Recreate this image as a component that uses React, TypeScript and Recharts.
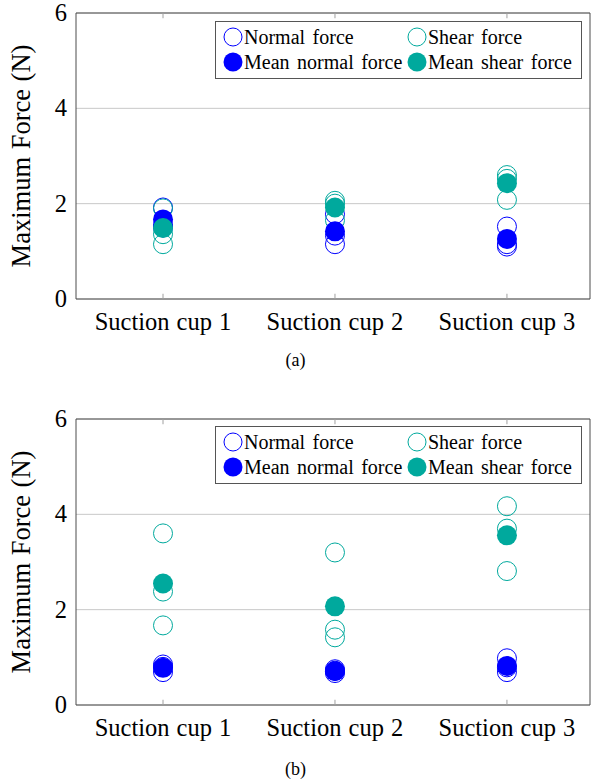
import React from 'react';
import { ScatterChart, Scatter, XAxis, YAxis, CartesianGrid, ReferenceArea, ReferenceLine } from 'recharts';

const cups = ['Suction cup 1', 'Suction cup 2', 'Suction cup 3'];
const yTicks = [0, 2, 4, 6];

// (a) three trials per cup
const normalA = [[1.92, 1.55, 1.5], [1.15, 1.33, 1.78], [1.52, 1.15, 1.1]];
const shearA = [[1.15, 1.36, 1.9], [2.06, 2.0, 1.65], [2.6, 2.52, 2.08]];
const meanNormalA = [1.67, 1.42, 1.26];
const meanShearA = [1.49, 1.92, 2.43];

// (b)
const normalB = [[0.69, 0.8, 0.85], [0.67, 0.72, 0.75], [0.98, 0.79, 0.69]];
const shearB = [[3.6, 2.38, 1.67], [3.2, 1.58, 1.42], [4.17, 3.7, 2.81]];
const meanNormalB = [0.78, 0.71, 0.82];
const meanShearB = [2.55, 2.07, 3.56];

const BLUE = '#0000ff';
const TEAL = '#00a99d';
const FONT = 'Liberation Serif';
const X_MIN = 0.494;
const X_MAX = 3.483;
const HEAD = 10; // spare room above the plot so the top tick label is not clipped

const toPoints = (groups: number[][]) =>
  groups.flatMap((vals, i) => vals.map((v) => ({ x: i + 1, y: v })));
const toMeans = (vals: number[]) => vals.map((v, i) => ({ x: i + 1, y: v }));

const ring = (color: string) => (p: any) =>
  <circle cx={p.cx} cy={p.cy} r={9.5} fill="none" stroke={color} strokeWidth={1} />;
const dot = (color: string) => (p: any) =>
  <circle cx={p.cx} cy={p.cy} r={10} fill={color} />;

const XTick = (p: any) => (
  <text x={p.x} y={p.y + 31} textAnchor="middle" fontFamily={FONT} fontSize={24.5} wordSpacing={1} fill="#000">
    {cups[p.payload.value - 1]}
  </text>
);

const YTick = (p: any) => (
  <text x={p.x} y={p.y + 8} textAnchor="end" fontFamily={FONT} fontSize={24.5} fill="#000">
    {p.payload.value}
  </text>
);

const yLabel = (props: any) => {
  const vb = props.viewBox;
  const cy = vb.y + vb.height / 2;
  return (
    <text x={30} y={cy} transform={`rotate(-90 30 ${cy})`} textAnchor="middle"
      fontFamily={FONT} fontSize={26.5} wordSpacing={1} fill="#000">
      Maximum Force (N)
    </text>
  );
};

const LegendBox: React.FC<{ top: number }> = ({ top }) => {
  const items = [
    { label: 'Normal force', color: BLUE, filled: false },
    { label: 'Shear force', color: TEAL, filled: false },
    { label: 'Mean normal force', color: BLUE, filled: true },
    { label: 'Mean shear force', color: TEAL, filled: true },
  ];
  return (
    <div style={{
      position: 'absolute', left: 215, top, width: 367, height: 58,
      border: '1px solid #555', background: '#fff', boxSizing: 'border-box',
      fontFamily: FONT, fontSize: 20, color: '#000',
    }}>
      {items.map((it, i) => (
        <div key={it.label} style={{
          position: 'absolute', left: i % 2 === 0 ? 7 : 191, top: i < 2 ? 3 : 28,
          display: 'flex', alignItems: 'center', height: 24, whiteSpace: 'nowrap', wordSpacing: 2.5,
        }}>
          <svg width={20} height={20} style={{ marginRight: 1 }}>
            {it.filled
              ? <circle cx={10} cy={10} r={9.5} fill={it.color} />
              : <circle cx={10} cy={10} r={9} fill="none" stroke={it.color} strokeWidth={1} />}
          </svg>
          <span>{it.label}</span>
        </div>
      ))}
    </div>
  );
};

const ForceChart: React.FC<{ normal: number[][]; shear: number[][]; meanNormal: number[]; meanShear: number[] }> = ({ normal, shear, meanNormal, meanShear }) => (
  <ScatterChart width={591} height={340 + HEAD} margin={{ top: 13 + HEAD, right: 1, bottom: 0, left: 0 }}>
    <CartesianGrid vertical={false} stroke="#c8c8c8" />
    <XAxis type="number" dataKey="x" domain={[X_MIN, X_MAX]} allowDataOverflow ticks={[1, 2, 3]}
      axisLine={false} tickLine={false} tickSize={0} tickMargin={0} height={41} tick={<XTick />} />
    <YAxis type="number" dataKey="y" domain={[0, 6]} ticks={yTicks} allowDataOverflow width={76}
      axisLine={false} tickLine={false} tickSize={0} tickMargin={9} tick={<YTick />} label={yLabel} />
    <ReferenceArea x1={X_MIN} x2={X_MAX} y1={0} y2={6} fill="none" stroke="#4d4d4d" strokeWidth={1} fillOpacity={0} />
    {cups.map((c, i) => (
      <ReferenceLine key={c + 'b'} segment={[{ x: i + 1, y: 0 }, { x: i + 1, y: 0.11 }]} stroke="#a0a0a0" />
    ))}
    {cups.map((c, i) => (
      <ReferenceLine key={c + 't'} segment={[{ x: i + 1, y: 6 }, { x: i + 1, y: 5.89 }]} stroke="#a0a0a0" />
    ))}
    <Scatter data={toPoints(normal)} shape={ring(BLUE)} isAnimationActive={false} />
    <Scatter data={toPoints(shear)} shape={ring(TEAL)} isAnimationActive={false} />
    <Scatter data={toMeans(meanNormal)} shape={dot(BLUE)} isAnimationActive={false} />
    <Scatter data={toMeans(meanShear)} shape={dot(TEAL)} isAnimationActive={false} />
  </ScatterChart>
);

const caption: React.CSSProperties = {
  position: 'absolute', left: 0, width: 591, textAlign: 'center',
  fontFamily: FONT, fontSize: 18, color: '#000',
};

export default function App() {
  return (
    <div style={{ position: 'absolute', left: 0, top: 0, width: 591, height: 782, background: '#fff', fontFamily: FONT, overflow: 'hidden' }}>
      <div style={{ position: 'absolute', left: 0, top: -HEAD }}>
        <ForceChart normal={normalA} shear={shearA} meanNormal={meanNormalA} meanShear={meanShearA} />
      </div>
      <LegendBox top={21} />
      <div style={{ ...caption, top: 350 }}>(a)</div>
      <div style={{ position: 'absolute', left: 0, top: 406 - HEAD }}>
        <ForceChart normal={normalB} shear={shearB} meanNormal={meanNormalB} meanShear={meanShearB} />
      </div>
      <LegendBox top={426} />
      <div style={{ ...caption, top: 759 }}>(b)</div>
    </div>
  );
}
